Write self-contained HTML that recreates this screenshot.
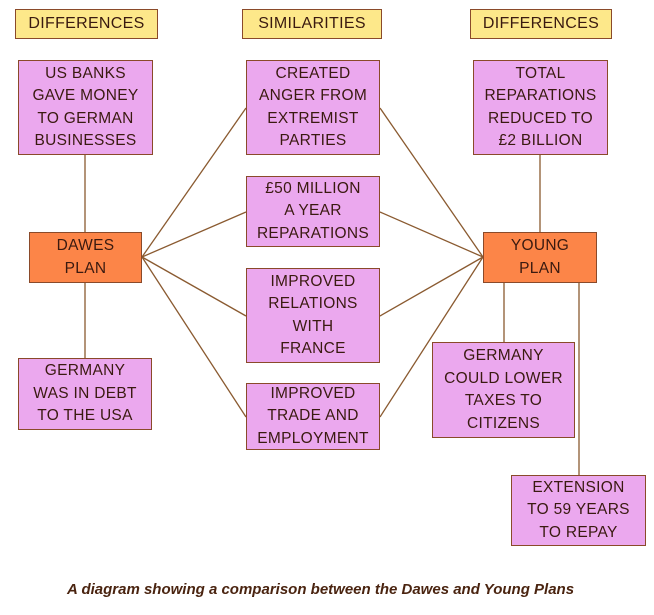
<!DOCTYPE html>
<html><head><meta charset="utf-8"><style>
body{margin:0;width:654px;height:615px;background:#fff;position:relative;overflow:hidden;font-family:"Liberation Sans",sans-serif;}
.b{position:absolute;box-sizing:border-box;border:1.5px solid #8a4a2a;display:flex;align-items:center;justify-content:center;text-align:center;color:#3a1a10;font-size:15.5px;line-height:22.5px;letter-spacing:0.3px;}
.h{background:#fde88a;font-size:16px;}
.p{background:#eba8ee;}
.o{background:#fc8548;}
svg{position:absolute;left:0;top:0;}
.cap{position:absolute;left:67px;top:581px;font-size:15px;font-style:italic;font-weight:bold;color:#4a2410;letter-spacing:0px;white-space:nowrap;}
</style></head><body>
<svg width="654" height="615"><g stroke="#8a5a30" stroke-width="1.3" fill="none">
<line x1="85" y1="155" x2="85" y2="232"/><line x1="85" y1="283" x2="85" y2="358"/>
<line x1="142" y1="257" x2="246" y2="108"/><line x1="142" y1="257" x2="246" y2="212"/>
<line x1="142" y1="257" x2="246" y2="316"/><line x1="142" y1="257" x2="246" y2="417"/>
<line x1="483" y1="257" x2="380" y2="108"/><line x1="483" y1="257" x2="380" y2="212"/>
<line x1="483" y1="257" x2="380" y2="316"/><line x1="483" y1="257" x2="380" y2="417"/>
<line x1="540" y1="155" x2="540" y2="232"/><line x1="504" y1="283" x2="504" y2="342"/>
<line x1="579" y1="283" x2="579" y2="475"/>
</g></svg>
<div class="b h" style="left:15px;top:9px;width:143px;height:30px">DIFFERENCES</div>
<div class="b h" style="left:242px;top:9px;width:140px;height:30px">SIMILARITIES</div>
<div class="b h" style="left:470px;top:9px;width:142px;height:30px">DIFFERENCES</div>
<div class="b p" style="left:18px;top:60px;width:135px;height:95px">US BANKS<br>GAVE MONEY<br>TO GERMAN<br>BUSINESSES</div>
<div class="b p" style="left:246px;top:60px;width:134px;height:95px">CREATED<br>ANGER FROM<br>EXTREMIST<br>PARTIES</div>
<div class="b p" style="left:473px;top:60px;width:135px;height:95px">TOTAL<br>REPARATIONS<br>REDUCED TO<br>£2 BILLION</div>
<div class="b p" style="left:246px;top:176px;width:134px;height:71px">£50 MILLION<br>A YEAR<br>REPARATIONS</div>
<div class="b p" style="left:246px;top:268px;width:134px;height:95px">IMPROVED<br>RELATIONS<br>WITH<br>FRANCE</div>
<div class="b p" style="left:246px;top:383px;width:134px;height:67px">IMPROVED<br>TRADE AND<br>EMPLOYMENT</div>
<div class="b o" style="left:29px;top:232px;width:113px;height:51px">DAWES<br>PLAN</div>
<div class="b o" style="left:483px;top:232px;width:114px;height:51px">YOUNG<br>PLAN</div>
<div class="b p" style="left:18px;top:358px;width:134px;height:72px">GERMANY<br>WAS IN DEBT<br>TO THE USA</div>
<div class="b p" style="left:432px;top:342px;width:143px;height:96px">GERMANY<br>COULD LOWER<br>TAXES TO<br>CITIZENS</div>
<div class="b p" style="left:511px;top:475px;width:135px;height:71px">EXTENSION<br>TO 59 YEARS<br>TO REPAY</div>
<div class="cap">A diagram showing a comparison between the Dawes and Young Plans</div>
</body></html>
